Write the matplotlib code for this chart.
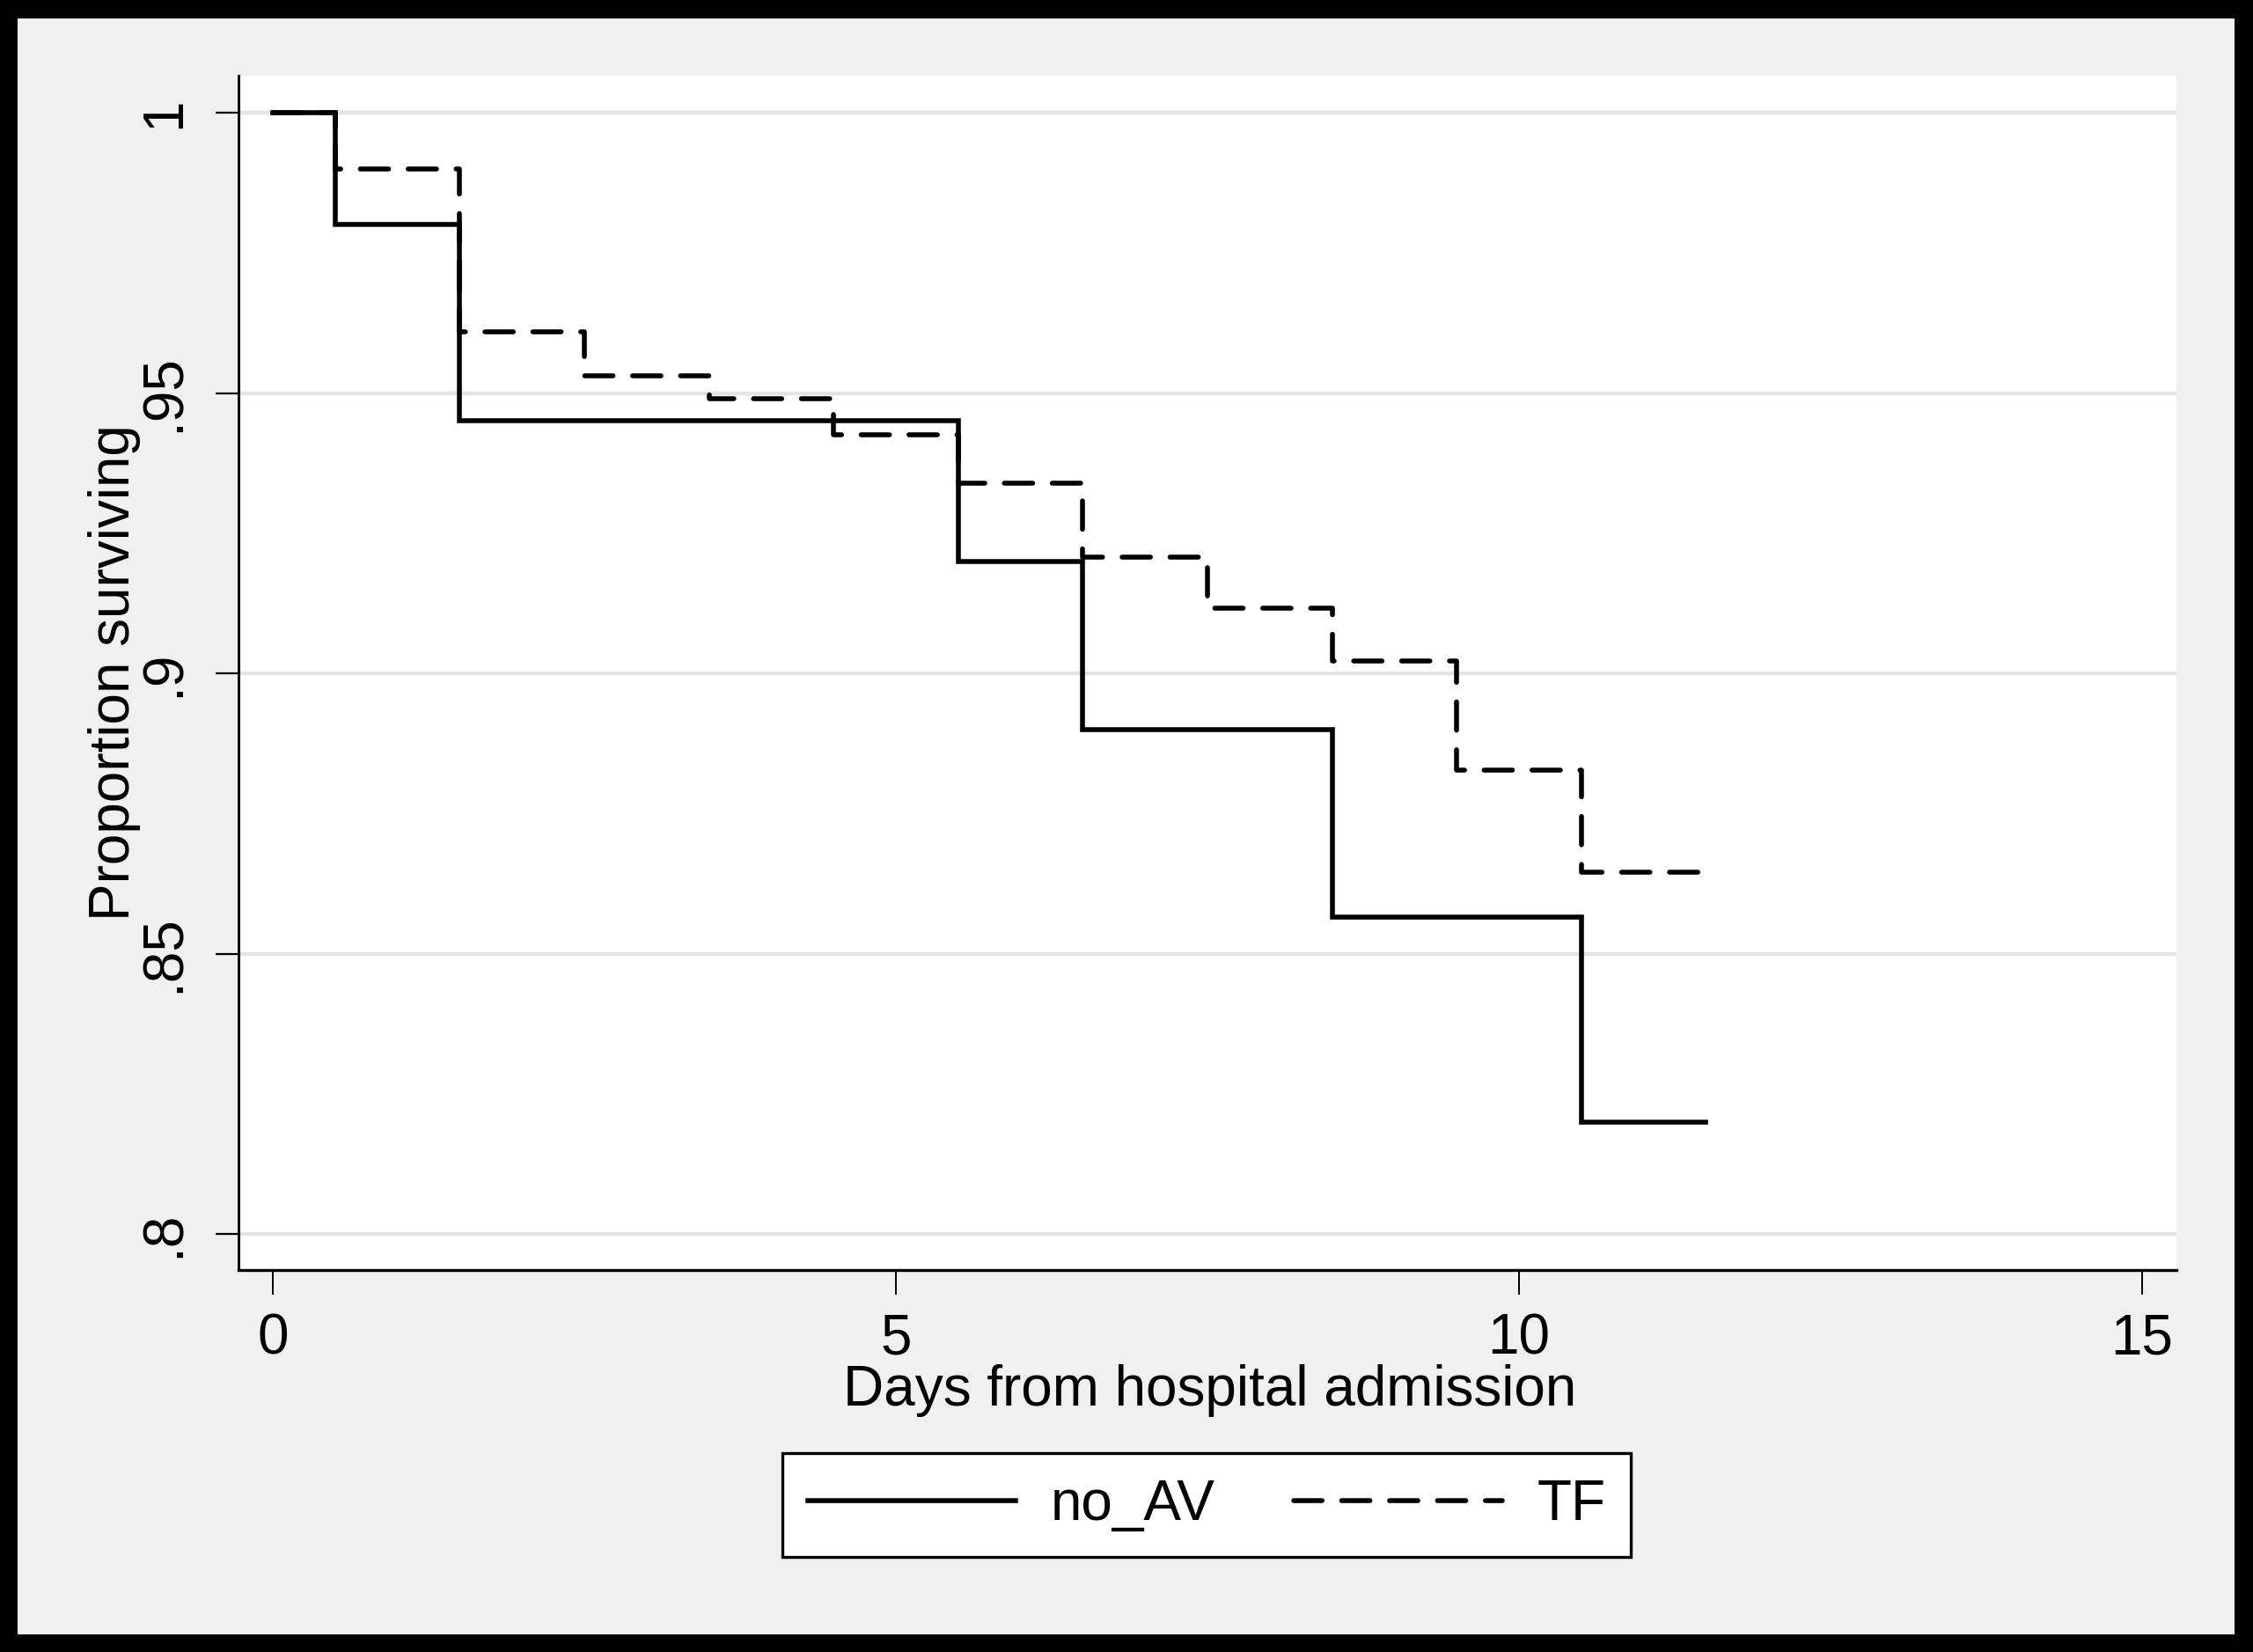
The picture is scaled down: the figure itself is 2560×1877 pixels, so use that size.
import numpy as np
import matplotlib
matplotlib.use('Agg')
import matplotlib.pyplot as plt
from matplotlib.patches import Rectangle

plt.rcParams['font.family'] = ['Liberation Sans', 'DejaVu Sans']

# Kaplan-Meier steps
time_noav = [0, 0.5, 1.5, 5.5, 6.5, 8.5, 10.5, 11.5]
surv_noav = [1.0, 0.980, 0.945, 0.920, 0.890, 0.8565, 0.820, 0.820]

time_tf = [0, 0.5, 1.5, 2.5, 3.5, 4.5, 5.5, 6.5, 7.5, 8.5, 9.5, 10.5, 11.5]
surv_tf = [1.0, 0.990, 0.961, 0.953, 0.949, 0.9425, 0.934, 0.9207, 0.9116, 0.9022, 0.8828, 0.8646, 0.8646]

xticks = [0, 5, 10, 15]
yticks = [0.8, 0.85, 0.9, 0.95, 1.0]
ytick_labels = ['.8', '.85', '.9', '.95', '1']
labels = ['no_AV', 'TF']

FS = 46

fig = plt.figure(figsize=(25.6, 18.77), dpi=100, facecolor='black')
fig.add_artist(Rectangle((20/2560, 20/1877), 2519/2560, 1836/1877,
                         transform=fig.transFigure, facecolor='#f0f0f0',
                         edgecolor='none', zorder=-1))

ax = fig.add_axes([271/2560, 1-1443/1877, 2202/2560, 1357/1877])
ax.set_facecolor('white')

ax.step(time_noav, surv_noav, where='post', color='black', lw=4.0,
        solid_joinstyle='miter', label=labels[0], zorder=3)
ax.step(time_tf, surv_tf, where='post', color='black', lw=4.0,
        dashes=(5.8, 4.0), dash_capstyle='round', label=labels[1], zorder=3)

ax.set_xlim(-0.275, 15.275)
ax.set_ylim(0.7936, 1.0066)
ax.set_xticks(xticks)
ax.set_xticklabels([str(t) for t in xticks])
ax.set_yticks(yticks)
ax.set_yticklabels(ytick_labels)

ax.grid(axis='y', color='#e4e4e4', lw=3.2, zorder=0)
ax.set_axisbelow(True)

for s in ['top', 'right']:
    ax.spines[s].set_visible(False)
ax.spines['left'].set_linewidth(2.1)
ax.spines['bottom'].set_linewidth(2.4)

ax.tick_params(axis='x', length=20, width=1.4, pad=15, labelsize=FS, direction='out')
ax.tick_params(axis='y', length=19, width=1.6, pad=20, labelsize=FS, direction='out',
               labelrotation=90)
for t in ax.get_yticklabels():
    t.set_va('center')

ax.set_xlabel('Days from hospital admission', fontsize=FS, va='center')
ax.xaxis.set_label_coords(0.501, -0.101)
ax.set_ylabel('Proportion surviving', fontsize=FS, va='center')
ax.yaxis.set_label_coords(-0.064, 0.5)

leg = fig.legend(loc='center', bbox_to_anchor=(1371/2560, 1-1710/1877), ncol=2,
                 fontsize=FS, frameon=True, fancybox=False, handlelength=3.7,
                 handletextpad=0.62, columnspacing=1.4, borderpad=0.45,
                 borderaxespad=0)
leg.get_frame().set_edgecolor('black')
leg.get_frame().set_linewidth(2.4)
leg.get_frame().set_facecolor('white')
leg.get_frame().set_alpha(1)

fig.savefig('out.png', dpi=100, facecolor=fig.get_facecolor())
